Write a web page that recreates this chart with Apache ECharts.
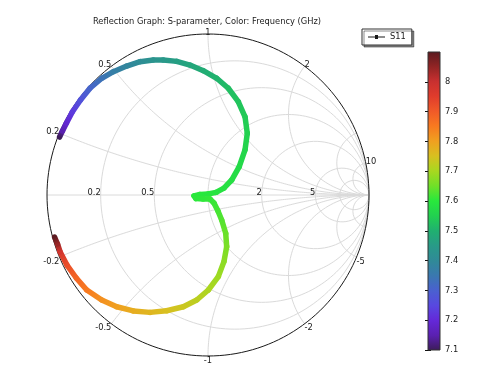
<!DOCTYPE html>
<html><head><meta charset="utf-8">
<script src="https://cdn.jsdelivr.net/npm/echarts@6/dist/echarts.min.js"></script>
<style>html,body{margin:0;padding:0;background:#fff}#c{width:479px;height:366px}</style>
</head><body><div id="c"></div>
<script>
// ---- data ----
const freq = [7.10,7.15,7.19,7.23,7.27,7.31,7.34,7.37,7.39,7.41,7.43,7.445,7.46,7.475,7.49,7.505,7.52,7.53,7.54,7.55,7.56,7.57,7.58,7.585,7.59,7.595,7.598,7.60,7.602,7.605,7.608,7.612,7.62,7.63,7.645,7.66,7.675,7.69,7.705,7.72,7.735,7.75,7.765,7.78,7.80,7.82,7.85,7.88,7.92,7.98,8.04,8.10];
const gammaRe = [-0.922,-0.904,-0.879,-0.842,-0.792,-0.733,-0.660,-0.588,-0.505,-0.422,-0.340,-0.278,-0.194,-0.112,-0.029,0.054,0.126,0.188,0.230,0.244,0.230,0.194,0.147,0.099,0.050,0.000,-0.050,-0.087,-0.075,-0.031,0.012,0.037,0.062,0.085,0.110,0.116,0.099,0.064,0.002,-0.070,-0.153,-0.257,-0.360,-0.464,-0.567,-0.660,-0.753,-0.817,-0.876,-0.919,-0.935,-0.953];
const gammaIm = [0.360,0.398,0.447,0.517,0.590,0.663,0.725,0.766,0.801,0.828,0.839,0.839,0.830,0.807,0.772,0.725,0.663,0.580,0.486,0.383,0.280,0.176,0.093,0.043,0.016,0.006,0.003,-0.006,-0.022,-0.025,-0.025,-0.050,-0.099,-0.155,-0.238,-0.321,-0.414,-0.507,-0.590,-0.652,-0.694,-0.719,-0.729,-0.720,-0.694,-0.652,-0.590,-0.517,-0.435,-0.352,-0.304,-0.261];
const seriesName = 'S11';
const titleText = 'Reflection Graph: S-parameter, Color: Frequency (GHz)';
const resistanceTicks = [0.2, 0.5, 1, 2, 5, 10];
const reactanceTicks = [0.2, 0.5, 1, 2, 5, 10, -0.2, -0.5, -1, -2, -5, -10];
const resistanceLabels = [0.2, 0.5, 2, 5];
const reactanceLabels = [0.2, 0.5, 1, 2, 10, -0.2, -0.5, -1, -2, -5];
const colorMin = 7.1, colorMax = 8.1, colorStep = 0.1;
const palette = ['#3c1c58','#5a20b0','#6428d8','#5848e0','#4a60d0','#3a78b0','#308a98','#289a88','#20b070','#22d050','#28e83c','#70e028','#a8d820','#d8c020','#f0a020','#f87a20','#f05a28','#e03c2c','#c83030','#902424','#5a1a20'];

// ---- styles ----
const FONT = 'DejaVu Sans';
const FS = 8.3;
const GRIDC = '#dadada';

function resistanceCircle(r) {
  const cx = r / (1 + r), rad = 1 / (1 + r), pts = [];
  for (let a = 0; a <= 360; a += 2) {
    const t = a * Math.PI / 180;
    pts.push([cx + rad * Math.cos(t), rad * Math.sin(t)]);
  }
  return pts;
}
function reactanceArc(x) {
  const pts = [];
  const N = 300;
  for (let k = 0; k < N; k++) {
    const t = k / N, r = t / (1 - t);
    const d = (r + 1) * (r + 1) + x * x;
    pts.push([(r * r + x * x - 1) / d, 2 * x / d]);
  }
  pts.push([1, 0]);
  return pts;
}
function gridLine(data, color) {
  return { type: 'line', data, xAxisIndex: 0, yAxisIndex: 0, showSymbol: false, symbol: 'none',
    silent: true, clip: false, z: 1, lineStyle: { color, width: 1 } };
}

const series = [];
series.push(gridLine([[-1, 0], [1, 0]], GRIDC));
resistanceTicks.forEach(r => series.push(gridLine(resistanceCircle(r), GRIDC)));
reactanceTicks.forEach(x => series.push(gridLine(reactanceArc(x), GRIDC)));
series.push(gridLine(resistanceCircle(0), '#1a1a1a'));

// labels
function textItem(api, p, align, va, txt) {
  return { type: 'text', x: p[0], y: p[1], style: { text: txt, align, verticalAlign: va, fill: '#1a1a1a', font: FS + 'px "' + FONT + '"' } };
}
series.push({
  type: 'custom', xAxisIndex: 0, yAxisIndex: 0, silent: true, z: 2,
  data: resistanceLabels.map(r => [(r - 1) / (r + 1), 0, r]),
  renderItem(params, api) {
    const p = api.coord([api.value(0), api.value(1)]);
    return textItem(api, [p[0], p[1] + 2], 'right', 'bottom', String(api.value(2)));
  }
});
series.push({
  type: 'custom', xAxisIndex: 0, yAxisIndex: 0, silent: true, z: 2,
  data: reactanceLabels.map(x => { const d = x * x + 1; return [(x * x - 1) / d, 2 * x / d, x]; }),
  renderItem(params, api) {
    const re = api.value(0), im = api.value(1);
    const p = api.coord([re, im]);
    const align = re < -0.05 ? 'right' : (re > 0.05 ? 'left' : 'center');
    const va = im > 0 ? 'bottom' : 'top';
    const dy = im > 0 ? 2.5 : 0.5;
    return textItem(api, [p[0], p[1] + dy], align, va, String(api.value(2)));
  }
});

// data curve
const nPts = freq.length;
function colorOf(f) { return echarts.color.lerp((f - colorMin) / (colorMax - colorMin), palette); }
series.push({
  type: 'custom', name: seriesName, xAxisIndex: 0, yAxisIndex: 0, z: 5, silent: true,
  data: freq.map((f, i) => [gammaRe[i], gammaIm[i], f]),
  encode: { x: 0, y: 1 },
  renderItem(params, api) {
    const i = params.dataIndex;
    if (i >= nPts - 1) return { type: 'group', children: [] };
    const p0 = api.coord([api.value(0), api.value(1)]);
    const p1 = api.coord([gammaRe[i + 1], gammaIm[i + 1]]);
    const c0 = colorOf(api.value(2)), c1 = colorOf(freq[i + 1]);
    return {
      type: 'line',
      shape: { x1: p0[0], y1: p0[1], x2: p1[0], y2: p1[1] },
      style: {
        stroke: new echarts.graphic.LinearGradient(p0[0], p0[1], p1[0] + 0.01, p1[1] + 0.01,
          [{ offset: 0, color: c0 }, { offset: 1, color: c1 }], true),
        lineWidth: 5.5, lineCap: 'round'
      }
    };
  }
});

// colorbar
series.push({
  type: 'custom', xAxisIndex: 1, yAxisIndex: 1, silent: true, z: 3,
  data: [[0, colorMin, 1, colorMax]],
  renderItem(params, api) {
    const a = api.coord([api.value(0), api.value(1)]);
    const b = api.coord([api.value(2), api.value(3)]);
    return {
      type: 'rect',
      shape: { x: a[0], y: b[1], width: b[0] - a[0], height: a[1] - b[1] },
      style: {
        fill: new echarts.graphic.LinearGradient(0, 1, 0, 0,
          palette.map((c, k) => ({ offset: k / (palette.length - 1), color: c }))),
        stroke: '#333', lineWidth: 1
      }
    };
  }
});

const cbAxisCommon = {
  type: 'value', gridIndex: 1, min: colorMin, max: colorMax, interval: colorStep,
  splitLine: { show: false },
  axisLine: { show: false },
  axisTick: { show: true, inside: true, length: 3, lineStyle: { color: '#111', width: 1 } }
};

const option = {
  animation: false,
  backgroundColor: '#fff',
  title: {
    text: titleText, left: 207, top: 18, padding: 0, textAlign: 'center',
    textStyle: { fontSize: FS, fontWeight: 'normal', fontFamily: FONT, color: '#1a1a1a' }
  },
  legend: {
    left: 362, top: 29, padding: [4, 6, 4, 6], itemWidth: 17, itemHeight: 9,
    borderColor: '#333', borderWidth: 1, backgroundColor: '#fff',
    shadowColor: 'rgba(0,0,0,0.45)', shadowOffsetX: 2, shadowOffsetY: 2, shadowBlur: 0,
    selectedMode: false,
    textStyle: { fontSize: FS, fontFamily: FONT, color: '#1a1a1a' },
    data: [{ name: seriesName, icon: 'path://M0,4 L7,4 L7,2.5 L10,2.5 L10,4 L17,4 L17,5 L10,5 L10,6.5 L7,6.5 L7,5 L0,5 Z', itemStyle: { color: '#1a1a1a' } }]
  },
  grid: [
    { left: 47, top: 34, width: 322, height: 322 },
    { left: 428, top: 52, width: 12, height: 298 }
  ],
  xAxis: [
    { type: 'value', gridIndex: 0, min: -1, max: 1, show: false },
    { type: 'value', gridIndex: 1, min: 0, max: 1, show: false }
  ],
  yAxis: [
    { type: 'value', gridIndex: 0, min: -1, max: 1, show: false },
    Object.assign({}, cbAxisCommon, {
      position: 'right',
      axisLabel: { show: true, margin: 5, fontSize: FS, fontFamily: FONT, color: '#1a1a1a',
        showMaxLabel: false,
        formatter: v => (v > colorMax - colorStep / 2 ? '' : String(Math.round(v * 10) / 10)) }
    }),
    Object.assign({}, cbAxisCommon, { position: 'left', axisLabel: { show: false } })
  ],
  series
};

const chart = echarts.init(document.getElementById('c'), null, { renderer: 'canvas' });
chart.setOption(option);
</script>
</body></html>
